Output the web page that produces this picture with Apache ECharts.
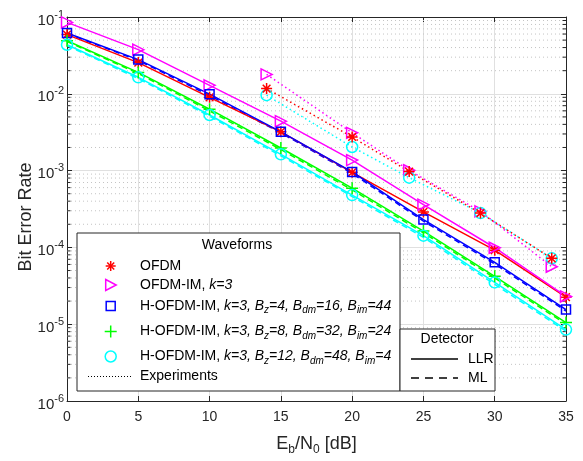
<!DOCTYPE html>
<html>
<head>
<meta charset="utf-8">
<script src="https://cdn.jsdelivr.net/npm/echarts@6/dist/echarts.min.js"></script>
<style>
html,body{margin:0;padding:0;background:#fff;}
#main{width:583px;height:461px;}
</style>
</head>
<body>
<div id="main"></div>
<script>
// ---- data ----
const snrSim = [0, 5, 10, 15, 20, 25, 30, 35];
const berOFDM   = [0.059, 0.0255, 0.0090, 0.0032, 0.00095, 2.9e-4, 9.2e-5, 2.25e-5];
const berOFDMIM = [0.085, 0.0376, 0.0129, 0.0044, 0.00137, 3.6e-4, 9.9e-5, 2.3e-5];
const berH4     = [0.062, 0.0279, 0.0099, 0.0032, 0.00096, 2.3e-4, 6.4e-5, 1.55e-5];
const berH8     = [0.049, 0.0190, 0.0063, 0.00197, 5.9e-4, 1.63e-4, 4.2e-5, 1.05e-5];
const berH12    = [0.0435, 0.0164, 0.0053, 0.00163, 4.8e-4, 1.42e-4, 3.5e-5, 8.5e-6];
const berH4ML   = [0.061, 0.0272, 0.0095, 0.0031, 0.00092, 2.2e-4, 6.1e-5, 1.48e-5];
const berH8ML   = [0.048, 0.0184, 0.0060, 0.00188, 5.6e-4, 1.55e-4, 4.0e-5, 1.0e-5];
const berH12ML  = [0.0425, 0.0158, 0.0051, 0.00156, 4.6e-4, 1.35e-4, 3.3e-5, 8.1e-6];

const snrExp      = [14, 20, 24, 29, 34];
const expOFDM     = [0.0117, 0.00274, 9.7e-4, 2.8e-4, 7.2e-5];
const expOFDMIM   = [0.0179, 0.0031, 0.00101, 2.95e-4, 5.6e-5];
const expH12      = [0.0096, 0.00203, 8.1e-4, 2.8e-4, 7.2e-5];

const xTicks = [0, 5, 10, 15, 20, 25, 30, 35];
const yDecades = [-6, -5, -4, -3, -2, -1];

// ---- helpers ----
const zip = (xs, ys) => xs.map((x, i) => [x, ys[i]]);
const minorVals = [];
for (let e = -6; e < -1; e++) for (let m = 2; m <= 9; m++) minorVals.push(m * Math.pow(10, e));

const FONT = 'Liberation Sans, Arial, sans-serif';
const AX = '#262626';
const RED = '#ff0000', MAG = '#ff00ff', BLU = '#0000ff', GRN = '#00ff00', CYN = '#00ffff';
const STAR = 'path://M5,0L5,10M0,5L10,5M1.5,1.5L8.5,8.5M1.5,8.5L8.5,1.5';
const PLUS = 'path://M5,0L5,10M0,5L10,5';
const TRI = 'path://M0,0L10,5L0,10Z';

function simSeries(data, color, symbol, size, type) {
  return {
    type: 'line', data: zip(snrSim, data), symbol: symbol, symbolSize: size,
    showSymbol: symbol !== 'none',
    lineStyle: { color: color, width: 1.5, type: type || 'solid' },
    itemStyle: { color: 'rgba(0,0,0,0)', borderColor: color, borderWidth: 1.5 },
    z: 3, silent: true
  };
}
function expSeries(data, color, symbol, size) {
  return {
    type: 'line', data: zip(snrExp, data), symbol: symbol, symbolSize: size,
    lineStyle: { color: color, width: 1.5, type: [1.5, 3] },
    itemStyle: { color: 'rgba(0,0,0,0)', borderColor: color, borderWidth: 1.5 },
    z: 3, silent: true
  };
}

const chart = echarts.init(document.getElementById('main'), null, { renderer: 'canvas' });

const series = [
  // minor grid lines + minor ticks on left & right
  {
    type: 'custom', data: minorVals.map(v => [0, v]), silent: true, z: 1,
    renderItem: function (params, api) {
      const v = api.value(1);
      const l = api.coord([0, v]);
      const r = api.coord([35, v]);
      return {
        type: 'group', children: [
          { type: 'line', z2: 0, shape: { x1: l[0], y1: l[1], x2: r[0], y2: r[1] }, style: { stroke: '#c4c4c4', lineWidth: 1, lineDash: [1, 3] } },
          { type: 'line', z2: 1, shape: { x1: l[0], y1: l[1], x2: l[0] + 3.5, y2: l[1] }, style: { stroke: AX, lineWidth: 1 } },
          { type: 'line', z2: 1, shape: { x1: r[0] - 3.5, y1: r[1], x2: r[0], y2: r[1] }, style: { stroke: AX, lineWidth: 1 } }
        ]
      };
    }
  },
  simSeries(berH12ML, CYN, 'none', 0, [6, 4]),
  simSeries(berH8ML, GRN, 'none', 0, [6, 4]),
  simSeries(berH4ML, BLU, 'none', 0, [6, 4]),
  simSeries(berOFDM, RED, STAR, 11),
  simSeries(berOFDMIM, MAG, TRI, 11),
  simSeries(berH4, BLU, 'rect', 9),
  simSeries(berH8, GRN, PLUS, 12),
  simSeries(berH12, CYN, 'circle', 11),
  expSeries(expOFDMIM, MAG, TRI, 11),
  expSeries(expH12, CYN, 'circle', 11),
  expSeries(expOFDM, RED, STAR, 11)
];

// ---- legend graphics ----
const legX = 110.7;
const txtX = 140;
const rich = {
  n: { fontSize: 14, fontFamily: FONT, fill: '#000' },
  i: { fontSize: 14, fontFamily: FONT, fontStyle: 'italic', fill: '#000' },
  s: { fontSize: 10, fontFamily: FONT, fontStyle: 'italic', fill: '#000', padding: [9, 0, 0, 0] }
};
function legText(y, text) {
  return { type: 'text', z: 101, style: { x: txtX, y: y, text: text, rich: rich, verticalAlign: 'middle', align: 'left', font: '14px ' + FONT } };
}
function line(x1, y1, x2, y2, color, extra) {
  return { type: 'line', z: 101, shape: { x1, y1, x2, y2 }, style: Object.assign({ stroke: color, lineWidth: 1.5 }, extra || {}) };
}
const yL = [266, 285, 306, 331.5, 356.5, 376.5];
const s = 5;
const graphics = [
  // y-axis title
  { type: 'text', z: 50, x: 26, y: 217, rotation: Math.PI / 2,
    style: { text: 'Bit Error Rate', align: 'center', verticalAlign: 'middle', font: '18px ' + FONT, fill: '#262626' } },
  { type: 'rect', z: 100, shape: { x: 77, y: 233, width: 323, height: 158 }, style: { fill: '#fff', stroke: AX, lineWidth: 1 } },
  { type: 'text', z: 101, style: { x: 237, y: 245, text: 'Waveforms', align: 'center', verticalAlign: 'middle', font: '14px ' + FONT, fill: '#000' } },
  // star
  line(legX - s, yL[0], legX + s, yL[0], RED), line(legX, yL[0] - s, legX, yL[0] + s, RED),
  line(legX - 3.5, yL[0] - 3.5, legX + 3.5, yL[0] + 3.5, RED), line(legX - 3.5, yL[0] + 3.5, legX + 3.5, yL[0] - 3.5, RED),
  legText(yL[0], '{n|OFDM}'),
  // triangle
  { type: 'polygon', z: 101, shape: { points: [[legX - 5, yL[1] - 5.5], [legX + 5.5, yL[1]], [legX - 5, yL[1] + 5.5]] }, style: { fill: 'none', stroke: MAG, lineWidth: 1.5 } },
  legText(yL[1], '{n|OFDM-IM, }{i|k=3}'),
  // square
  { type: 'rect', z: 101, shape: { x: legX - 4.5, y: yL[2] - 4.5, width: 9, height: 9 }, style: { fill: 'none', stroke: BLU, lineWidth: 1.5 } },
  legText(yL[2], '{n|H-OFDM-IM, }{i|k=3, B}{s|z}{i|=4, B}{s|dm}{i|=16, B}{s|im}{i|=44}'),
  // plus
  line(legX - 6, yL[3], legX + 6, yL[3], GRN), line(legX, yL[3] - 6, legX, yL[3] + 6, GRN),
  legText(yL[3], '{n|H-OFDM-IM, }{i|k=3, B}{s|z}{i|=8, B}{s|dm}{i|=32, B}{s|im}{i|=24}'),
  // circle
  { type: 'circle', z: 101, shape: { cx: legX, cy: yL[4], r: 5.5 }, style: { fill: 'none', stroke: CYN, lineWidth: 1.5 } },
  legText(yL[4], '{n|H-OFDM-IM, }{i|k=3, B}{s|z}{i|=12, B}{s|dm}{i|=48, B}{s|im}{i|=4}'),
  // experiments
  line(88, yL[5], 131, yL[5], '#000', { lineWidth: 1, lineDash: [1, 2] }),
  legText(yL[5], '{n|Experiments}'),
  // detector legend
  { type: 'rect', z: 102, shape: { x: 400, y: 329, width: 95, height: 62 }, style: { fill: '#fff', stroke: AX, lineWidth: 1 } },
  { type: 'text', z: 103, style: { x: 447, y: 339, text: 'Detector', align: 'center', verticalAlign: 'middle', font: '14px ' + FONT, fill: '#000' } },
  { type: 'line', z: 103, shape: { x1: 411, y1: 359, x2: 458, y2: 359 }, style: { stroke: '#000', lineWidth: 1.5 } },
  { type: 'line', z: 103, shape: { x1: 411, y1: 378, x2: 458, y2: 378 }, style: { stroke: '#000', lineWidth: 1.5, lineDash: [8, 6] } },
  { type: 'text', z: 103, style: { x: 468, y: 359, text: 'LLR', align: 'left', verticalAlign: 'middle', font: '14px ' + FONT, fill: '#000' } },
  { type: 'text', z: 103, style: { x: 468, y: 378, text: 'ML', align: 'left', verticalAlign: 'middle', font: '14px ' + FONT, fill: '#000' } }
];

const option = {
  animation: false,
  backgroundColor: '#fff',
  grid: { left: 67, right: 17, top: 17, bottom: 56, containLabel: false },
  xAxis: [
    {
      type: 'value', min: 0, max: 35, interval: 5, position: 'bottom',
      name: '{n|E}{sub|b}{n|/N}{sub|0}{n| [dB]}', nameLocation: 'middle', nameGap: 31,
      nameTextStyle: {
        rich: {
          n: { fontSize: 18, fontFamily: FONT, color: '#262626' },
          sub: { fontSize: 12, fontFamily: FONT, color: '#262626', padding: [12, 0, 0, 0] }
        }
      },
      axisLine: { show: true, onZero: false, lineStyle: { color: AX, width: 1 } },
      axisTick: { show: true, inside: true, length: 5, lineStyle: { color: AX } },
      axisLabel: { fontSize: 14, fontFamily: FONT, color: '#262626', margin: 9 },
      splitLine: { show: true, lineStyle: { color: '#e0e0e0', width: 1 } }
    },
    {
      type: 'value', min: 0, max: 35, interval: 5, position: 'top',
      axisLine: { show: true, onZero: false, lineStyle: { color: AX, width: 1 } },
      axisTick: { show: true, inside: true, length: 5, lineStyle: { color: AX } },
      axisLabel: { show: false }, splitLine: { show: false }
    }
  ],
  yAxis: [
    {
      type: 'log', logBase: 10, min: 1e-6, max: 0.1, position: 'left',
      axisLine: { show: true, onZero: false, lineStyle: { color: AX, width: 1 } },
      axisTick: { show: true, inside: true, length: 5, lineStyle: { color: AX } },
      axisLabel: {
        margin: 3,
        formatter: function (v) { return '{b|10}{e|' + Math.round(Math.log10(v)) + '}'; },
        rich: {
          b: { fontSize: 15, fontFamily: FONT, color: '#262626', padding: [7, 0, 0, 0] },
          e: { fontSize: 11, fontFamily: FONT, color: '#262626', padding: [0, 0, 5, 0] }
        }
      },
      splitLine: { show: true, lineStyle: { color: '#e0e0e0', width: 1 } },
      minorTick: { show: false }, minorSplitLine: { show: false }
    },
    {
      type: 'log', logBase: 10, min: 1e-6, max: 0.1, position: 'right',
      axisLine: { show: true, onZero: false, lineStyle: { color: AX, width: 1 } },
      axisTick: { show: true, inside: true, length: 5, lineStyle: { color: AX } },
      axisLabel: { show: false }, splitLine: { show: false }
    }
  ],
  series: series,
  graphic: graphics
};
chart.setOption(option);
</script>
</body>
</html>
